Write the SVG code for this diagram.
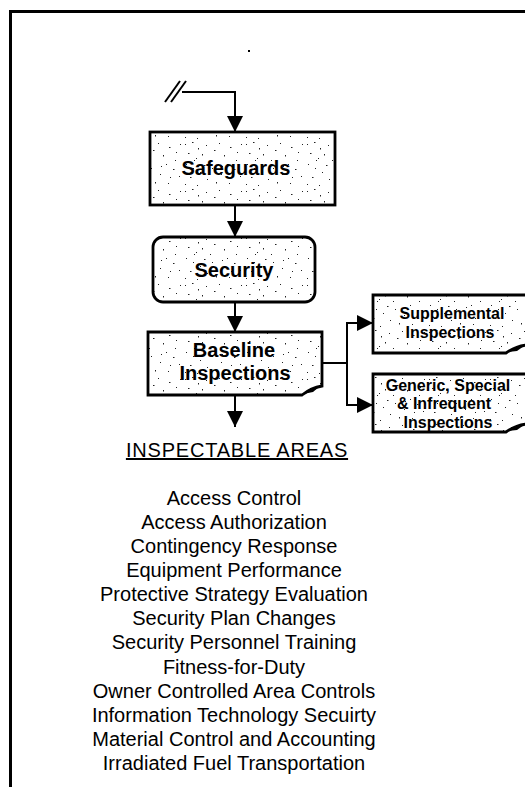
<svg xmlns="http://www.w3.org/2000/svg" width="525" height="787" viewBox="0 0 525 787">
<style>
.frame{stroke:#000;stroke-width:3;fill:none}
.box{stroke:#000;stroke-width:2.8;fill:url(#stip)}
.conn{stroke:#000;stroke-width:2;fill:none}
.lbl{font-family:"Liberation Sans",Arial,sans-serif;font-weight:bold;fill:#000;text-anchor:middle}
.big{font-size:20px}
.small{font-size:16px}
.list{font-family:"Liberation Sans",Arial,sans-serif;font-size:20px;fill:#000;text-anchor:middle}
</style>
<defs>
<pattern id="stip" width="61" height="47" patternUnits="userSpaceOnUse">
<rect width="61" height="47" fill="#fff"/>
<g fill="#222">
<rect x="2" y="3" width="1" height="1"/><rect x="9" y="1" width="1.5" height="1"/><rect x="15" y="7" width="1" height="1.5"/>
<rect x="23" y="4" width="1" height="1"/><rect x="5" y="12" width="1.5" height="1"/><rect x="13" y="17" width="1" height="1"/>
<rect x="19" y="13" width="1" height="1.5"/><rect x="27" y="19" width="1" height="1"/><rect x="3" y="23" width="1" height="1"/>
<rect x="31" y="9" width="1.5" height="1"/><rect x="10" y="27" width="1" height="1"/><rect x="17" y="31" width="1" height="1"/>
<rect x="36" y="2" width="1" height="1"/><rect x="41" y="14" width="1" height="1.5"/><rect x="47" y="6" width="1.5" height="1"/>
<rect x="54" y="11" width="1" height="1"/><rect x="58" y="3" width="1" height="1"/><rect x="44" y="23" width="1" height="1"/>
<rect x="51" y="28" width="1.5" height="1"/><rect x="57" y="35" width="1" height="1"/><rect x="38" y="33" width="1" height="1"/>
<rect x="33" y="41" width="1" height="1.5"/><rect x="24" y="38" width="1" height="1"/><rect x="7" y="36" width="1.5" height="1"/>
<rect x="2" y="43" width="1" height="1"/><rect x="14" y="44" width="1" height="1"/><rect x="46" y="42" width="1" height="1"/>
<rect x="53" y="19" width="1" height="1"/><rect x="29" y="27" width="1" height="1"/><rect x="21" y="24" width="1.5" height="1"/>
<rect x="39" y="25" width="1" height="1"/><rect x="48" y="36" width="1" height="1"/><rect x="11" y="19" width="1" height="1"/>
</g>
</pattern>
<marker id="ah" markerUnits="userSpaceOnUse" markerWidth="17" markerHeight="17" refX="16" refY="8" orient="auto">
<path d="M0,0 L16,8 L0,16 z" fill="#000"/>
</marker>
</defs>

<g id="frame">
<line class="frame" x1="9" y1="11.5" x2="525" y2="11.5"/>
<line class="frame" x1="10.5" y1="10" x2="10.5" y2="787"/>
<rect x="248" y="50" width="2" height="2" fill="#000"/>
</g>

<g id="connectors">
<line class="conn" x1="165" y1="102" x2="180" y2="81"/>
<line class="conn" x1="171" y1="102" x2="186" y2="81"/>
<polyline class="conn" points="182,92 235,92 235,132" marker-end="url(#ah)"/>
<line class="conn" x1="235" y1="205" x2="235" y2="237" marker-end="url(#ah)"/>
<line class="conn" x1="235" y1="302" x2="235" y2="332" marker-end="url(#ah)"/>
<line class="conn" x1="235" y1="395" x2="235" y2="427" marker-end="url(#ah)"/>
<polyline class="conn" points="322,363 347,363"/>
<line class="conn" x1="347" y1="322" x2="347" y2="406"/>
<line class="conn" x1="346" y1="323" x2="373" y2="323" marker-end="url(#ah)"/>
<line class="conn" x1="346" y1="405" x2="373" y2="405" marker-end="url(#ah)"/>
</g>

<g id="safeguards">
<rect class="box" x="150" y="132" width="185" height="73"/>
<text class="lbl big" x="236" y="175">Safeguards</text>
</g>

<g id="security">
<rect class="box" x="153" y="237" width="162" height="65" rx="10" ry="10"/>
<text class="lbl big" x="234" y="277">Security</text>
</g>

<g id="baseline">
<path class="box" d="M148,332 H322 V386 Q311,388 302,395 H148 Z"/>
<path d="M303,394 Q309,388 319,387 L313,392 Z" fill="#000"/>
<text class="lbl big" x="234" y="357">Baseline</text>
<text class="lbl big" x="235" y="380">Inspections</text>
</g>

<g id="supplemental">
<path class="box" d="M373,295 H527 V345 Q516,346 506,353 H373 Z"/>
<path d="M507,352 Q513,347 524,346 L517,351 Z" fill="#000"/>
<text class="lbl small" x="452" y="319">Supplemental</text>
<text class="lbl small" x="450" y="338">Inspections</text>
</g>

<g id="generic">
<path class="box" d="M373,374 H527 V424 Q516,425 506,432 H373 Z"/>
<path d="M507,431 Q513,426 524,425 L517,430 Z" fill="#000"/>
<text class="lbl small" x="448" y="391">Generic, Special</text>
<text class="lbl small" x="444" y="409">&amp; Infrequent</text>
<text class="lbl small" x="448" y="428">Inspections</text>
</g>

<g id="inspectable-areas">
<text class="list" x="237" y="457" text-decoration="underline" letter-spacing="0.8">INSPECTABLE AREAS</text>
<text class="list" x="234" y="505">Access Control</text>
<text class="list" x="234" y="529">Access Authorization</text>
<text class="list" x="234" y="553">Contingency Response</text>
<text class="list" x="234" y="577">Equipment Performance</text>
<text class="list" x="234" y="601">Protective Strategy Evaluation</text>
<text class="list" x="234" y="625">Security Plan Changes</text>
<text class="list" x="234" y="649">Security Personnel Training</text>
<text class="list" x="234" y="674">Fitness-for-Duty</text>
<text class="list" x="234" y="698">Owner Controlled Area Controls</text>
<text class="list" x="234" y="722">Information Technology Secuirty</text>
<text class="list" x="234" y="746">Material Control and Accounting</text>
<text class="list" x="234" y="770">Irradiated Fuel Transportation</text>
</g>
</svg>
